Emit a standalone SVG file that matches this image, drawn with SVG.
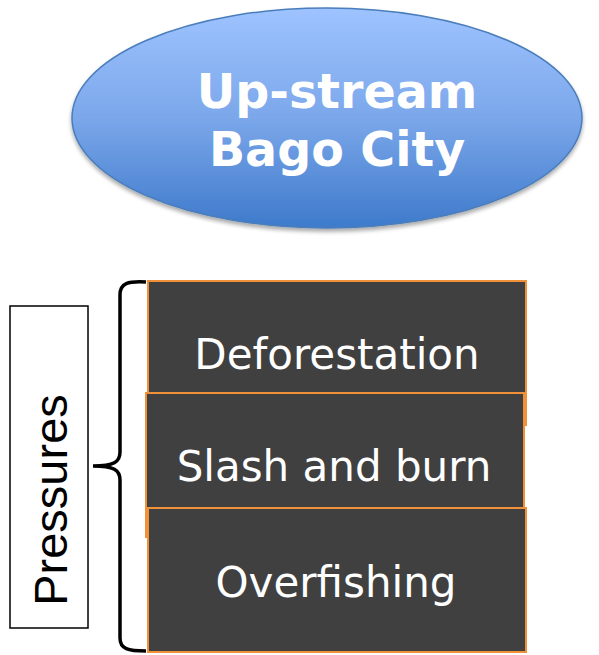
<svg xmlns="http://www.w3.org/2000/svg" width="599" height="655" viewBox="0 0 599 655">
<defs>
<linearGradient id="g" x1="0" y1="0" x2="0" y2="1">
<stop offset="0" stop-color="#9EC3FF"/>
<stop offset="0.5" stop-color="#7BA7EA"/>
<stop offset="1" stop-color="#3E7ACB"/>
</linearGradient>
<filter id="sh" x="-10%" y="-10%" width="120%" height="130%">
<feGaussianBlur in="SourceAlpha" stdDeviation="2"/>
<feOffset dy="3"/>
<feComponentTransfer><feFuncA type="linear" slope="0.35"/></feComponentTransfer>
<feMerge><feMergeNode/><feMergeNode in="SourceGraphic"/></feMerge>
</filter>
</defs>
<style>
.box{fill:#404040;stroke:#F0913A;stroke-width:2}
.bt{font-family:"DejaVu Sans",Verdana,sans-serif;font-size:42px;fill:#fff;text-anchor:middle}
.et{font-family:"DejaVu Sans",Verdana,sans-serif;font-weight:bold;font-size:47.5px;fill:#fff;text-anchor:middle}
</style>
<g id="upstream">
<ellipse cx="327" cy="118" rx="255" ry="110" fill="url(#g)" stroke="#4A7EBB" stroke-width="1.5" filter="url(#sh)"/>
<text class="et" x="337" y="108">Up-stream</text>
<text class="et" x="337" y="166">Bago City</text>
</g>
<g id="deforestation">
<rect class="box" x="148" y="281" width="378" height="144"/>
<text class="bt" x="337" y="369">Deforestation</text>
</g>
<g id="slash">
<rect class="box" x="146" y="393" width="378" height="144"/>
<text class="bt" x="334" y="481">Slash and burn</text>
</g>
<g id="overfishing">
<rect class="box" x="148" y="508" width="378" height="144"/>
<text class="bt" x="336" y="597">Overfishing</text>
</g>
<g id="pressures">
<rect x="10" y="306" width="78" height="322" fill="#fff" stroke="#000" stroke-width="1.5"/>
<text transform="translate(67,500) rotate(-90)" x="0" y="0" font-family="'Liberation Sans',Arial,sans-serif" font-size="47" fill="#000" text-anchor="middle">Pressures</text>
</g>
<g id="connectors">
<path d="M146,282 C128,281 120,283 120,295 V452 C120,462 114,466 93,466 C114,466 120,470 120,480 V638 C120,649 128,651 146,651" fill="none" stroke="#000" stroke-width="3.5"/>
</g>
</svg>
